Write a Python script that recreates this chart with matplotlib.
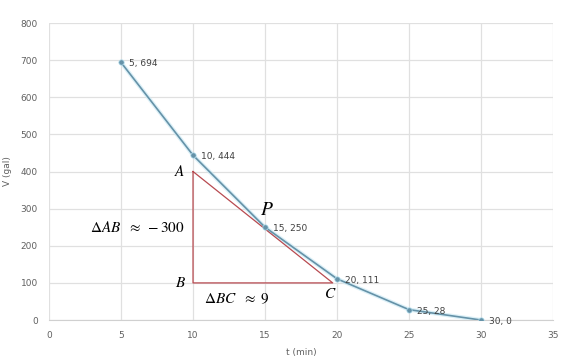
import numpy as np
import matplotlib
matplotlib.use('Agg')
import matplotlib.pyplot as plt

plt.rcParams['mathtext.fontset'] = 'stix'

# data points
t = [5, 10, 15, 20, 25, 30]
V = [694, 444, 250, 111, 28, 0]

# triangle corners (A, B, C)
tri_t = [10, 10, 19.7]
tri_V = [400, 100, 100]

x_ticks = [0, 5, 10, 15, 20, 25, 30, 35]
y_ticks = [0, 100, 200, 300, 400, 500, 600, 700, 800]

fig = plt.figure(figsize=(5.66, 3.6), dpi=100)
ax = fig.add_axes([0.0866, 0.111, 0.8905, 0.825])

line_col = '#6592a8'
red = '#b84a50'

# faint glow under the line
ax.plot(t, V, color='#cdeaf5', lw=3, alpha=0.7, zorder=2, solid_capstyle='round')
ax.plot(t, V, color=line_col, lw=1.2, zorder=3)
ax.scatter(t, V, s=15, color=line_col, zorder=4, edgecolors='#b5e0f0', linewidths=0.5)

for x, y in zip(t, V):
    ax.annotate(f'{x}, {y}', (x, y), xytext=(6, -1), textcoords='offset points',
                fontsize=6.5, color='#404040', va='center', ha='left', zorder=5)

# triangle
ax.plot(tri_t + [tri_t[0]], tri_V + [tri_V[0]], color=red, lw=0.9, zorder=2.5)

ax.text(9.45, 400, '$A$', fontsize=11, ha='right', va='center')
ax.text(9.55, 102, '$B$', fontsize=11, ha='right', va='center')
ax.text(19.5, 72, '$C$', fontsize=11, ha='center', va='center')
ax.text(15.1, 298, '$P$', fontsize=14, ha='center', va='center')
ax.text(9.45, 250, r'$\Delta AB\ \ \approx\ -300$', fontsize=11, ha='right', va='center')
ax.text(13.0, 57, r'$\Delta BC\ \ \approx\ 9$', fontsize=11, ha='center', va='center')

ax.set_xlim(0, 35)
ax.set_ylim(0, 800)
ax.set_xticks(x_ticks)
ax.set_yticks(y_ticks)
ax.grid(True, color='#e0e0e0', lw=0.9)
ax.set_axisbelow(True)
for s in ['top', 'right', 'left']:
    ax.spines[s].set_visible(False)
ax.spines['bottom'].set_color('#d0d0d0')
ax.tick_params(length=0, labelsize=6.5, labelcolor='#606060', pad=8)
ax.set_xlabel('t (min)', fontsize=6.5, color='#606060', labelpad=6)
ax.set_ylabel('V (gal)', fontsize=6.5, color='#606060', labelpad=6)

fig.savefig('out.png', dpi=100)
